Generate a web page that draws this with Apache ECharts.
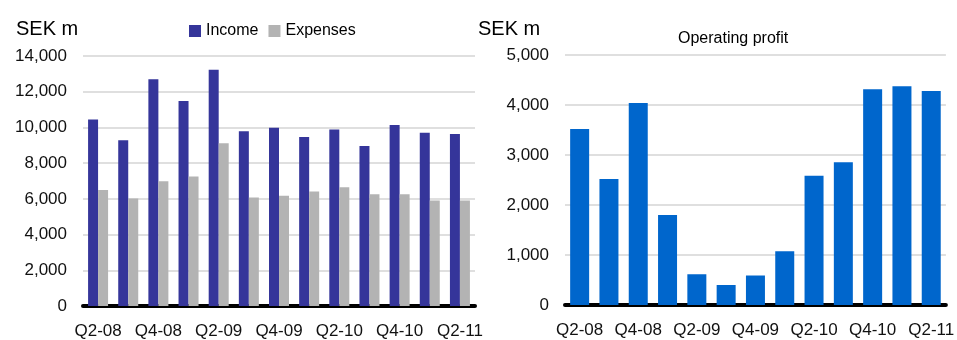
<!DOCTYPE html>
<html>
<head>
<meta charset="utf-8">
<script src="https://cdn.jsdelivr.net/npm/echarts@6/dist/echarts.min.js"></script>
<style>
  html, body { margin: 0; padding: 0; background: #fff; }
  #chart { width: 957px; height: 340px; }
</style>
</head>
<body>
<div id="chart"></div>
<script>
// Quarterly figures, SEK m
const quarters = ['Q2-08', 'Q3-08', 'Q4-08', 'Q1-09', 'Q2-09', 'Q3-09', 'Q4-09',
                  'Q1-10', 'Q2-10', 'Q3-10', 'Q4-10', 'Q1-11', 'Q2-11'];
const income = [10450, 9280, 12700, 11480, 13230, 9790, 9980, 9460, 9890, 8960, 10130, 9700, 9630];
const expenses = [6500, 6020, 6990, 7250, 9110, 6080, 6170, 6410, 6650, 6260, 6260, 5910, 5910];
const operatingProfit = [3520, 2520, 4040, 1800, 615, 400, 590, 1075, 2585, 2855, 4315, 4375, 4280];

const FONT = '"Liberation Sans", Arial, sans-serif';
const fmt = v => v.toLocaleString('en-US');

const chart = echarts.init(document.getElementById('chart'));

const xAxisBase = {
  type: 'category',
  data: quarters,
  axisTick: { show: false },
  axisLine: { lineStyle: { color: '#000', width: 4, cap: 'round' } },
  axisLabel: { interval: 1, margin: 17, fontSize: 17, fontFamily: FONT, color: '#111' }
};
const yAxisBase = {
  type: 'value',
  min: 0,
  axisLine: { show: false },
  axisTick: { show: false },
  splitLine: { lineStyle: { color: '#d4d4d4', width: 1.5 } },
  axisLabel: { fontSize: 17, fontFamily: FONT, color: '#111', formatter: fmt, margin: 16 }
};
const unitStyle = { fontSize: 20, fontWeight: 'normal', fontFamily: FONT, color: '#000' };

chart.setOption({
  animation: false,
  title: [
    { text: 'SEK m', left: 11, top: 14, textStyle: unitStyle },
    { text: 'SEK m', left: 473, top: 14, textStyle: unitStyle },
    { text: 'Operating profit', left: 673, top: 26,
      textStyle: { fontSize: 16, fontWeight: 'normal', fontFamily: FONT, color: '#000' } }
  ],
  legend: {
    left: 184, top: 18,
    itemWidth: 12, itemHeight: 12, itemGap: 10,
    icon: 'rect',
    textStyle: { fontSize: 16, fontFamily: FONT, color: '#000' },
    data: ['Income', 'Expenses']
  },
  grid: [
    { left: 83, right: 482, top: 56, bottom: 33 },
    { left: 565, right: 5, top: 55, bottom: 35 }
  ],
  xAxis: [
    Object.assign({}, xAxisBase, { gridIndex: 0 }),
    Object.assign({}, xAxisBase, { gridIndex: 1 })
  ],
  yAxis: [
    Object.assign({}, yAxisBase, { gridIndex: 0, max: 14000, interval: 2000 }),
    Object.assign({}, yAxisBase, { gridIndex: 1, max: 5000, interval: 1000 })
  ],
  series: [
    { name: 'Income', type: 'bar', xAxisIndex: 0, yAxisIndex: 0,
      data: income, barWidth: 10, barGap: '0%',
      itemStyle: { color: '#35359a' } },
    { name: 'Expenses', type: 'bar', xAxisIndex: 0, yAxisIndex: 0,
      data: expenses, barWidth: 10, barGap: '0%',
      itemStyle: { color: '#b3b3b3' } },
    { name: 'Operating profit', type: 'bar', xAxisIndex: 1, yAxisIndex: 1,
      data: operatingProfit, barWidth: 19,
      itemStyle: { color: '#0066cc' } }
  ]
});
</script>
</body>
</html>
